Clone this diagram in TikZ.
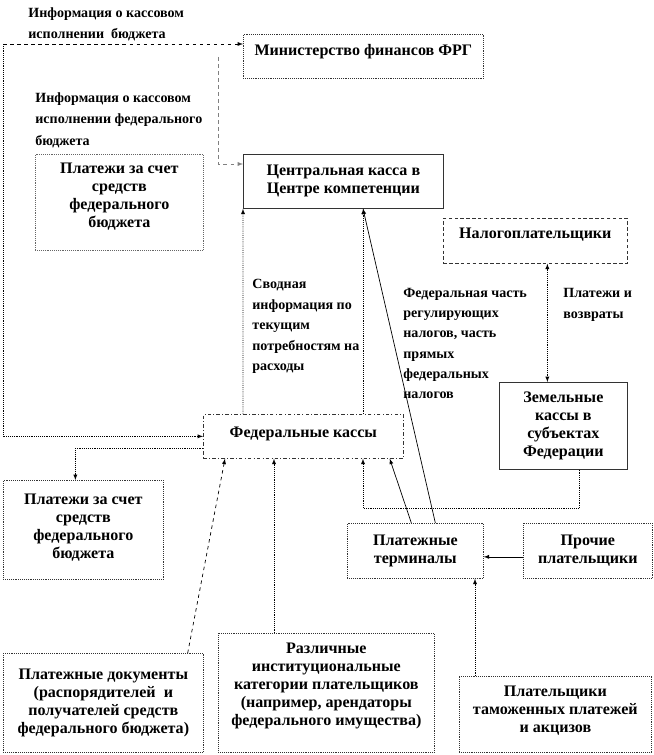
\documentclass[tikz,border=0pt]{standalone}
\usepackage{fontspec}
\setmainfont{Liberation Serif}
\usetikzlibrary{arrows, positioning}

\begin{document}
\begin{tikzpicture}[x=0.3mm, y=-0.3mm, line width=0.6pt]
      \tikzstyle{box} = [rectangle, anchor=north west, align=center, inner sep=2pt, densely dotted, draw=black!80, font=\bfseries\fontsize{13.7}{15.4}\selectfont]
      \tikzstyle{note} = [anchor=north west, align=left, inner sep=0pt, font=\bfseries\fontsize{12}{17.5}\selectfont]
      \tikzstyle{connect} = [-latex]
      \useasboundingbox (0,0) rectangle (654,755);
      % boxes
      \node[box, minimum width=7.2cm, minimum height=1.32cm] (min) at (243,34) {Министерство финансов ФРГ\\[-1.8mm]};
      \node[box, solid, minimum width=6cm, minimum height=1.62cm] (central) at (243,154) {Центральная касса в\\Центре компетенции};
      \node[box, draw=black!60, minimum width=5.04cm, minimum height=2.88cm] (pay1) at (35,154) {Платежи за счет\\средств\\федерального\\бюджета\\[-1.2mm]};
      \node[box, densely dashed, minimum width=5.52cm, minimum height=1.35cm] (taxp) at (443,218) {Налогоплательщики\\[-0.9mm]};
      \node[box, solid, minimum width=3.84cm, minimum height=2.61cm] (land) at (499,382) {Земельные\\кассы в\\субъектах\\Федерации};
      \node[box, dash dot, minimum width=6cm, minimum height=1.32cm] (fed) at (203,414) {Федеральные кассы\\[-3mm]};
      \node[box, minimum width=4.8cm, minimum height=2.97cm] (pay2) at (3,480) {Платежи за счет\\средств\\федерального\\бюджета\\[-3mm]};
      \node[box, minimum width=4.08cm, minimum height=1.65cm] (term) at (347,523) {Платежные\\терминалы};
      \node[box, minimum width=3.87cm, minimum height=1.65cm] (other) at (523,523) {Прочие\\плательщики};
      \node[box, minimum width=6cm, minimum height=2.97cm] (docs) at (3,653) {Платежные документы\\(распорядителей\enspace и\\получателей средств\\федерального бюджета)};
      \node[box, minimum width=6.48cm, minimum height=3.57cm] (inst) at (218,633) {Различные\\институциональные\\категории плательщиков\\(например, арендаторы\\федерального имущества)\\[0mm]};
      \node[box, minimum width=5.76cm, minimum height=2.28cm] (cust) at (459,676) {Плательщики\\таможенных платежей\\и акцизов\\[-2.1mm]};
      % labels
      \node[note, font=\bfseries\fontsize{12}{18}\selectfont] (info1) at (28,7) {Информация о кассовом\\исполнении\enspace бюджета};
      \node[note, font=\bfseries\fontsize{12}{18.5}\selectfont] (info2) at (35,92) {Информация о кассовом\\исполнении федерального\\бюджета};
      \node[note] (sum) at (252,279) {Сводная\\информация по\\текущим\\потребностям на\\расходы};
      \node[note, font=\bfseries\fontsize{12}{17.2}\selectfont] (share) at (403,288) {Федеральная часть\\регулирующих\\налогов, часть\\прямых\\федеральных\\налогов};
      \node[note] (ret) at (563,288) {Платежи и\\возвраты};
      % connectors
      \coordinate (lt) at (3,44);
      \coordinate (gt) at (218,57);
      \coordinate (br) at (363,508);
      \draw[connect, dashed] (lt) -- (lt -| min.west);
      \draw[connect, densely dotted] (lt) |- (fed.west);
      \draw[connect, gray, dashed] (gt) |- ([yshift=-3mm]central.north west);
      \draw[connect, densely dotted] ([xshift=12mm]fed.north west) -- (central.south west);
      \draw[connect, densely dotted] ([xshift=18mm]fed.north) -- ([xshift=18mm]fed.north |- central.south);
      \draw[connect] ([xshift=6mm]term.north) -- ([xshift=36mm]central.south west);
      \draw[connect] ([xshift=-1.2mm]term.north) -- ([xshift=-4.2mm]fed.south east);
      \draw[connect, densely dotted] ([xshift=4.8mm]land.south) |- (br) -- (br |- fed.south);
      \draw[latex-latex, densely dotted] ([xshift=3.6mm]taxp.south) -- ([xshift=3.6mm]taxp.south |- land.north);
      \draw[connect, densely dotted] ([yshift=-3.6mm]fed.west) -| ([xshift=-2.4mm]pay2.north);
      \draw[connect, dashed] ([xshift=-4.8mm]docs.north east) -- ([xshift=6.6mm]fed.south west);
      \draw[connect, densely dotted] ([xshift=16.8mm]inst.north west) -- ([xshift=16.8mm]inst.north west |- fed.south);
      \draw[connect, densely dotted] ([xshift=4.8mm]cust.north west) -- ([xshift=4.8mm]cust.north west |- term.south);
      \draw[connect] ([yshift=-1.8mm]other.west) -- ([yshift=-1.8mm]term.east);
    \end{tikzpicture}
\end{document}
